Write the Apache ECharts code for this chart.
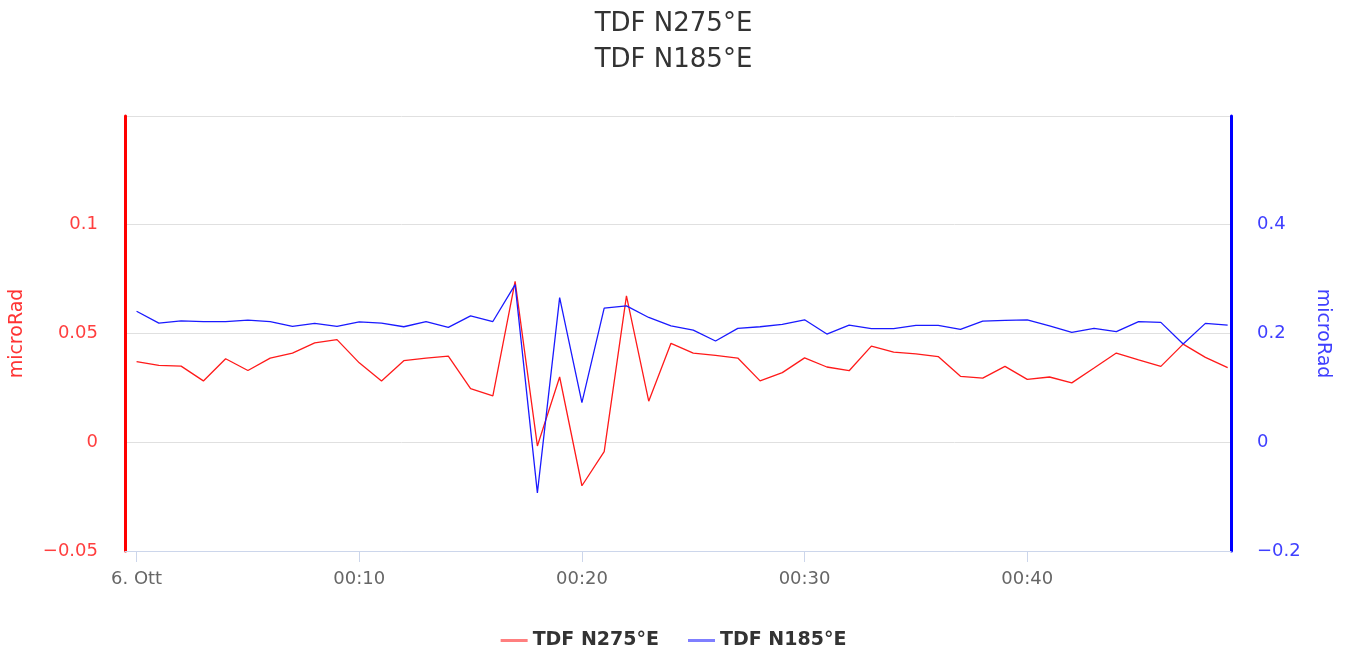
<!DOCTYPE html>
<html>
<head>
<meta charset="utf-8">
<script src="https://cdn.jsdelivr.net/npm/echarts@6/dist/echarts.min.js"></script>
<style>html,body{margin:0;padding:0;background:#fff}#c{width:1347px;height:649px}</style>
</head>
<body>
<div id="c"></div>
<script>
// minutes after 6 Ott 00:00
const minutes = [0,1,2,3,4,5,6,7,8,9,10,11,12,13,14,15,16,17,18,19,20,21,22,23,24,25,26,27,28,29,30,31,32,33,34,35,36,37,38,39,40,41,42,43,44,45,46,47,48,49];
const tdf275 = [0.0371,0.0353,0.0350,0.0282,0.0384,0.0330,0.0387,0.0410,0.0457,0.0472,0.0365,0.0282,0.0375,0.0387,0.0396,0.0247,0.0213,0.0740,-0.0017,0.0300,-0.0200,-0.0043,0.0673,0.0189,0.0455,0.0410,0.0399,0.0387,0.0282,0.0320,0.0388,0.0346,0.0329,0.0442,0.0414,0.0406,0.0394,0.0303,0.0295,0.0349,0.0289,0.0300,0.0273,0.0341,0.0410,0.0379,0.0349,0.0451,0.0390,0.0343];
const tdf185 = [0.241,0.219,0.2234,0.222,0.222,0.2246,0.222,0.213,0.2186,0.213,0.2215,0.219,0.2124,0.222,0.2112,0.2325,0.222,0.290,-0.093,0.266,0.073,0.2465,0.2507,0.2295,0.2142,0.2063,0.1862,0.2094,0.2124,0.2167,0.2252,0.199,0.2155,0.2088,0.209,0.215,0.215,0.2076,0.2228,0.224,0.2252,0.2142,0.2021,0.2094,0.2033,0.222,0.2204,0.1808,0.2186,0.2155];
const xTickValues = [0,10,20,30,40];
const seriesNames = ['TDF N275°E','TDF N185°E'];

const font = 'DejaVu Sans';
const minus = v => String(v).replace('-', '\u2212');
const chart = echarts.init(document.getElementById('c'));
chart.setOption({
  animation: false,
  textStyle: {fontFamily: font},
  title: {
    text: seriesNames[0] + '\n' + seriesNames[1],
    left: 'center', top: 1,
    textStyle: {fontFamily: font, fontSize: 26, fontWeight: 'normal', color: '#333', lineHeight: 36}
  },
  legend: {
    left: 'center', top: 626, itemGap: 29, itemWidth: 27, itemHeight: 3, icon: 'rect',
    textStyle: {fontFamily: font, fontSize: 19, fontWeight: 'bold', color: '#333', padding: [0,0,0,0]},
    data: [
      {name: seriesNames[0], itemStyle: {color: '#ff7f7f'}},
      {name: seriesNames[1], itemStyle: {color: '#7f7fff'}}
    ]
  },
  grid: {left: 123, right: 116, top: 116, bottom: 98},
  xAxis: {
    type: 'value', min: -0.52, max: 49.15,
    axisLine: {show: true, onZero: false, lineStyle: {color: '#ccd6eb', width: 1}},
    axisTick: {show: true, length: 11, customValues: xTickValues, lineStyle: {color: '#ccd6eb'}},
    axisLabel: {
      customValues: xTickValues, color: '#666', fontSize: 18, margin: 19, fontFamily: font,
      formatter: v => v === 0 ? '6. Ott' : '00:' + String(v).padStart(2, '0')
    },
    splitLine: {show: false}
  },
  yAxis: [
    {
      type: 'value', min: -0.05, max: 0.15, interval: 0.05, position: 'left',
      name: 'microRad', nameLocation: 'middle', nameGap: 98,
      nameTextStyle: {color: '#ff3333', fontSize: 19, fontFamily: font},
      axisLine: {show: true, onZero: false, lineStyle: {color: '#ff0000', width: 3}},
      axisTick: {show: false},
      axisLabel: {color: '#ff3f3f', fontSize: 18, margin: 27, showMaxLabel: false, fontFamily: font, formatter: minus},
      splitLine: {show: true, lineStyle: {color: '#e0e0e0', width: 1}}
    },
    {
      type: 'value', min: -0.2, max: 0.6, interval: 0.2, position: 'right',
      name: 'microRad', nameLocation: 'middle', nameGap: 82, nameRotate: -90,
      nameTextStyle: {color: '#3f3fff', fontSize: 19, fontFamily: font},
      axisLine: {show: true, onZero: false, lineStyle: {color: '#0000ff', width: 3}},
      axisTick: {show: false},
      axisLabel: {color: '#3f3fff', fontSize: 18, margin: 26, showMaxLabel: false, fontFamily: font, formatter: minus},
      splitLine: {show: false}
    }
  ],
  series: [
    {
      name: seriesNames[0], type: 'line', yAxisIndex: 0, showSymbol: false, symbol: 'none',
      lineStyle: {color: '#ff1a1a', width: 1.3}, itemStyle: {color: '#ff7f7f'},
      data: minutes.map((m, i) => [m, tdf275[i]])
    },
    {
      name: seriesNames[1], type: 'line', yAxisIndex: 1, showSymbol: false, symbol: 'none',
      lineStyle: {color: '#1a1aff', width: 1.3}, itemStyle: {color: '#7f7fff'},
      data: minutes.map((m, i) => [m, tdf185[i]])
    }
  ]
});
</script>
</body>
</html>
